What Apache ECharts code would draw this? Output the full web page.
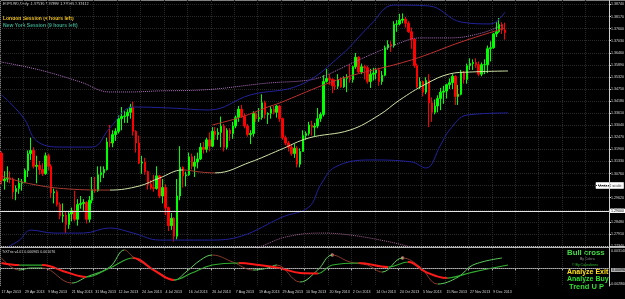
<!DOCTYPE html>
<html>
<head>
<meta charset="utf-8">
<script src="https://cdn.jsdelivr.net/npm/echarts@6/dist/echarts.min.js"></script>
<style>
  html, body { margin: 0; padding: 0; background: #000; }
  #chart { width: 625px; height: 299px; }
</style>
</head>
<body>
<div id="chart"></div>
<script>
// EURUSD Daily, 17 Apr 2013 .. 13 Dec 2013, one row per weekday: [open, high, low, close]
const ohlc = [
  [1.3172,1.3180,1.3025,1.3042],[1.3042,1.3087,1.3000,1.3050],[1.3050,1.3110,1.3035,1.3055],[1.3055,1.3086,1.3030,1.3048],
  [1.3048,1.3057,1.2955,1.2990],[1.2990,1.3020,1.2950,1.3005],[1.3005,1.3055,1.2980,1.3030],[1.3030,1.3050,1.2995,1.3035],
  [1.3035,1.3100,1.3030,1.3090],[1.3090,1.3185,1.3060,1.3170],
  // May
  [1.3170,1.3245,1.3140,1.3185],[1.3185,1.3200,1.3100,1.3110],[1.3110,1.3160,1.3030,1.3115],[1.3115,1.3135,1.3070,1.3095],
  [1.3095,1.3125,1.3065,1.3075],[1.3075,1.3175,1.3070,1.3160],[1.3160,1.3170,1.3090,1.3110],[1.3110,1.3120,1.2960,1.2985],
  [1.2985,1.3005,1.2935,1.2990],[1.2990,1.3000,1.2920,1.2930],[1.2930,1.2940,1.2860,1.2875],[1.2875,1.2935,1.2845,1.2880],
  [1.2880,1.2895,1.2795,1.2835],[1.2835,1.2900,1.2815,1.2885],[1.2885,1.2915,1.2850,1.2900],[1.2900,1.2995,1.2850,1.2860],
  [1.2860,1.2955,1.2830,1.2930],[1.2930,1.2970,1.2910,1.2935],[1.2935,1.2955,1.2900,1.2940],[1.2940,1.2945,1.2840,1.2860],
  [1.2860,1.2970,1.2845,1.2950],[1.2950,1.3060,1.2935,1.3000],[1.3000,1.3060,1.2985,1.2995],
  // June
  [1.2995,1.3110,1.2990,1.3070],[1.3070,1.3110,1.3035,1.3080],[1.3080,1.3110,1.3055,1.3095],[1.3095,1.3245,1.3090,1.3225],
  [1.3225,1.3305,1.3200,1.3220],[1.3220,1.3280,1.3200,1.3260],[1.3260,1.3290,1.3230,1.3275],[1.3275,1.3350,1.3265,1.3335],
  [1.3335,1.3390,1.3280,1.3345],[1.3345,1.3370,1.3315,1.3348],[1.3348,1.3380,1.3315,1.3365],[1.3365,1.3405,1.3335,1.3390],
  [1.3390,1.3415,1.3255,1.3275],[1.3275,1.3280,1.3175,1.3220],[1.3220,1.3255,1.3120,1.3125],[1.3125,1.3160,1.3075,1.3130],
  [1.3130,1.3150,1.3070,1.3085],[1.3085,1.3090,1.3000,1.3025],[1.3025,1.3045,1.3000,1.3010],[1.3010,1.3070,1.2990,1.3005],
  // July
  [1.3005,1.3110,1.3000,1.3065],[1.3065,1.3070,1.2960,1.2970],[1.2970,1.3050,1.2935,1.3010],[1.3010,1.3025,1.2880,1.2915],
  [1.2915,1.2920,1.2805,1.2830],[1.2830,1.2890,1.2810,1.2865],[1.2865,1.2870,1.2755,1.2780],[1.2780,1.3050,1.2765,1.2970],
  [1.2970,1.3205,1.2950,1.3105],[1.3105,1.3110,1.3010,1.3065],[1.3065,1.3085,1.3015,1.3070],[1.3070,1.3175,1.3065,1.3155],
  [1.3155,1.3170,1.3095,1.3110],[1.3110,1.3160,1.3060,1.3130],[1.3130,1.3175,1.3100,1.3145],[1.3145,1.3220,1.3140,1.3200],
  [1.3200,1.3225,1.3170,1.3190],[1.3190,1.3245,1.3175,1.3235],[1.3235,1.3270,1.3180,1.3205],[1.3205,1.3295,1.3200,1.3275],
  [1.3275,1.3295,1.3235,1.3260],[1.3260,1.3290,1.3235,1.3270],[1.3270,1.3345,1.3200,1.3300],
  // August
  [1.3300,1.3310,1.3180,1.3200],[1.3200,1.3290,1.3190,1.3280],[1.3280,1.3290,1.3230,1.3265],[1.3265,1.3320,1.3240,1.3300],
  [1.3300,1.3350,1.3290,1.3340],[1.3340,1.3395,1.3320,1.3380],[1.3380,1.3400,1.3340,1.3345],[1.3345,1.3360,1.3290,1.3300],
  [1.3300,1.3310,1.3250,1.3260],[1.3260,1.3280,1.3215,1.3265],[1.3265,1.3370,1.3250,1.3360],[1.3360,1.3365,1.3320,1.3335],
  [1.3335,1.3385,1.3320,1.3340],[1.3340,1.3450,1.3330,1.3410],[1.3410,1.3420,1.3335,1.3355],[1.3355,1.3365,1.3310,1.3360],
  [1.3360,1.3395,1.3335,1.3380],[1.3380,1.3395,1.3355,1.3365],[1.3365,1.3400,1.3340,1.3395],[1.3395,1.3400,1.3320,1.3335],
  [1.3335,1.3340,1.3235,1.3245],[1.3245,1.3255,1.3210,1.3220],
  // September
  [1.3220,1.3230,1.3180,1.3200],[1.3200,1.3215,1.3160,1.3170],[1.3170,1.3215,1.3150,1.3195],[1.3195,1.3205,1.3105,1.3120],
  [1.3120,1.3195,1.3105,1.3180],[1.3180,1.3280,1.3180,1.3255],[1.3255,1.3275,1.3235,1.3265],[1.3265,1.3320,1.3255,1.3305],
  [1.3305,1.3325,1.3255,1.3295],[1.3295,1.3315,1.3250,1.3300],[1.3300,1.3385,1.3290,1.3335],[1.3335,1.3365,1.3320,1.3355],
  [1.3355,1.3540,1.3345,1.3510],[1.3510,1.3570,1.3505,1.3525],[1.3525,1.3545,1.3495,1.3520],[1.3520,1.3525,1.3455,1.3490],
  [1.3490,1.3520,1.3470,1.3488],[1.3488,1.3545,1.3475,1.3520],[1.3520,1.3530,1.3480,1.3485],[1.3485,1.3535,1.3480,1.3525],
  [1.3525,1.3545,1.3460,1.3530],
  // October
  [1.3530,1.3590,1.3505,1.3520],[1.3520,1.3585,1.3505,1.3580],[1.3580,1.3645,1.3570,1.3625],[1.3625,1.3630,1.3550,1.3555],
  [1.3555,1.3595,1.3545,1.3580],[1.3580,1.3590,1.3520,1.3575],[1.3575,1.3585,1.3500,1.3510],[1.3510,1.3570,1.3480,1.3545],
  [1.3545,1.3575,1.3515,1.3550],[1.3550,1.3575,1.3520,1.3565],[1.3565,1.3575,1.3490,1.3510],[1.3510,1.3560,1.3495,1.3540],
  [1.3540,1.3680,1.3535,1.3670],[1.3670,1.3705,1.3660,1.3685],[1.3685,1.3700,1.3650,1.3680],[1.3680,1.3795,1.3670,1.3780],
  [1.3780,1.3800,1.3745,1.3782],[1.3782,1.3830,1.3775,1.3800],[1.3800,1.3832,1.3785,1.3805],[1.3805,1.3815,1.3765,1.3785],
  [1.3785,1.3795,1.3740,1.3745],[1.3745,1.3765,1.3665,1.3710],[1.3710,1.3712,1.3575,1.3585],
  // November
  [1.3585,1.3595,1.3480,1.3485],[1.3485,1.3530,1.3475,1.3510],[1.3510,1.3515,1.3440,1.3460],[1.3460,1.3530,1.3450,1.3515],
  [1.3515,1.3545,1.3295,1.3410],[1.3410,1.3435,1.3320,1.3365],[1.3365,1.3425,1.3355,1.3395],[1.3395,1.3445,1.3365,1.3430],
  [1.3430,1.3480,1.3375,1.3460],[1.3460,1.3490,1.3405,1.3465],[1.3465,1.3500,1.3430,1.3495],[1.3495,1.3525,1.3475,1.3505],
  [1.3505,1.3545,1.3475,1.3535],[1.3535,1.3540,1.3400,1.3440],[1.3440,1.3495,1.3400,1.3450],[1.3450,1.3565,1.3445,1.3555],
  [1.3555,1.3560,1.3500,1.3520],[1.3520,1.3595,1.3500,1.3585],[1.3585,1.3620,1.3565,1.3595],[1.3595,1.3615,1.3565,1.3600],
  [1.3600,1.3620,1.3575,1.3590],
  // December
  [1.3590,1.3605,1.3535,1.3545],[1.3545,1.3600,1.3535,1.3590],[1.3590,1.3615,1.3545,1.3590],[1.3590,1.3680,1.3550,1.3665],
  [1.3665,1.3700,1.3605,1.3670],[1.3670,1.3740,1.3665,1.3735],[1.3735,1.3790,1.3720,1.3745],[1.3745,1.3810,1.3740,1.3780],
  [1.3780,1.3790,1.3735,1.3753],[1.3753,1.3788,1.3708,1.3741]
];
const firstDay = '2013-04-17';
const emptyBars = 35;   // blank space right of the last bar

// price scale labels and horizontal lines
const priceTicks = [1.27340,1.27910,1.28480,1.29050,1.29620,1.30190,1.30760,1.31330,1.31900,1.32470,1.33040,
  1.33610,1.34180,1.34750,1.35320,1.35890,1.36460,1.37030,1.37600,1.38170,1.38740];
const hLines = [1.2889, 1.2878];
const bidPrice = 1.37412;

// overlay lines: [bar index, price]
const envUpper = [[0,1.3602],[13,1.3565],[27,1.3508],[37,1.3461],[44,1.3461],[54,1.3466],[68,1.3470],[91,1.3503],
  [105,1.3517],[111,1.3541],[122,1.3612],[136,1.3692],[143,1.3716],[153,1.3716],[164,1.3739],[171,1.3777]];
const envLower = [[84,1.2715],[88,1.2729],[97,1.2776],[109,1.2795],[119,1.2786],[132,1.2755],[140,1.2729],[144,1.2715]];
const bbUpper = [[0,1.3447],[3,1.3409],[8,1.3330],[12,1.3230],[20,1.3201],[31,1.3201],[37,1.3291],[45,1.3390],[58,1.3385],
  [71,1.3376],[85,1.3447],[102,1.3494],[116,1.3635],[126,1.3777],[134,1.3871],[146,1.3867],[157,1.3791],[167,1.3782],[172,1.3838]];
const bbLower = [[0,1.2715],[6,1.2760],[10,1.2809],[18,1.2795],[28,1.2795],[37,1.2819],[45,1.2795],[54,1.2762],[71,1.2762],
  [82,1.2781],[96,1.2871],[105,1.2918],[109,1.3022],[114,1.3107],[126,1.3140],[140,1.3131],[145,1.3102],[150,1.3211],
  [153,1.3281],[159,1.3352],[173,1.3362]];
const maLine = [[0,1.3064],[10,1.3027],[23,1.3003],[37,1.2998],[47,1.3017],[54,1.3055],[62,1.3093],[68,1.3083],[73,1.3079],
  [85,1.3130],[95,1.3187],[105,1.3244],[119,1.3281],[129,1.3352],[136,1.3423],[145,1.3499],[153,1.3546],[160,1.3555],[173,1.3560]];
const channelLine = [[72,1.3305],[82,1.3343],[91,1.3390],[95,1.3409],[110,1.3494],[119,1.3536],[140,1.3612],[157,1.3697],[172,1.3763]];

// TRIX sub window: [bar index, value]
const trixFast = [[0,0.00168],[6,-0.00027],[10,0.00006],[14,0.00006],[24,-0.00238],[29,-0.00140],[37,0.00022],[42,0.00298],
  [45,0.00184],[54,-0.00076],[59,-0.00189],[63,-0.00060],[68,0.00135],[72,0.00216],[79,0.00103],[86,-0.00027],[91,0.00006],
  [94,0.00054],[102,-0.00221],[108,-0.00027],[113,0.00216],[119,0.00103],[125,0.00054],[130,-0.00060],[137,0.00168],
  [143,0.00022],[149,-0.00254],[156,-0.00140],[161,0.00054],[171,0.00168]];
const trixSlow = [[0,0.00087],[6,0.00054],[14,0.00054],[22,-0.00060],[29,-0.00140],[37,0.00006],[45,0.00168],[52,-0.00027],
  [59,-0.00189],[65,-0.00076],[72,0.00054],[81,0.00087],[88,0.00054],[95,0.00006],[102,-0.00076],[108,-0.00082],[113,0.00054],
  [122,0.00087],[132,0.00022],[139,0.00103],[145,-0.00060],[152,-0.00157],[161,-0.00060],[173,0.00054]];
const trixMarks = [[113,0.00216],[137,0.00168]];

const MONTHS = ['Jan','Feb','Mar','Apr','May','Jun','Jul','Aug','Sep','Oct','Nov','Dec'];
const FONT = '"Liberation Sans", Arial, sans-serif';
const CLEAR = 'rgba(0,0,0,0)';

// weekdays from the first bar on
function weekdays(start, n) {
  const out = [];
  const d = new Date(start + 'T00:00:00Z');
  while (out.length < n) {
    const w = d.getUTCDay();
    if (w !== 0 && w !== 6) out.push(d.getUTCDate() + ' ' + MONTHS[d.getUTCMonth()] + ' ' + d.getUTCFullYear());
    d.setUTCDate(d.getUTCDate() + 1);
  }
  return out;
}
const dates = weekdays(firstDay, ohlc.length + emptyBars);

// colour each stretch of a line by whether it goes up or down
function slopePieces(pts, upColor, downColor) {
  const pieces = [];
  for (let j = 0; j < pts.length - 1; j++) {
    const p = pts[j], q = pts[j + 1];
    const piece = { gte: p[0], color: q[1] >= p[1] ? upColor : downColor };
    if (j < pts.length - 2) piece.lt = q[0]; else piece.lte = q[0];
    pieces.push(piece);
  }
  return pieces;
}

function overlay(data, lineStyle) {
  return {
    type: 'line', xAxisIndex: 0, yAxisIndex: 0, data: data,
    symbol: 'none', smooth: 0.4, silent: true,
    lineStyle: Object.assign({ width: 1 }, lineStyle)
  };
}

const splitStyle = { color: '#2a2a2a', type: 'dotted', width: 1 };
const chart = echarts.init(document.getElementById('chart'), null, { renderer: 'canvas' });

chart.setOption({
  animation: false,
  backgroundColor: '#000',
  grid: [
    { left: 0, right: 16, top: 0, height: 246, outerBoundsMode: 'none' },
    { left: 0, right: 16, top: 248, height: 38, outerBoundsMode: 'none' }
  ],
  xAxis: [
    {
      type: 'category', gridIndex: 0, data: dates, boundaryGap: true,
      axisLine: { show: false }, axisTick: { show: false }, axisLabel: { show: false },
      splitLine: { show: true, interval: 7, lineStyle: splitStyle }
    },
    {
      type: 'category', gridIndex: 1, data: dates, boundaryGap: true,
      axisLine: { show: true, lineStyle: { color: '#b0b0b0', width: 1 } },
      axisTick: { show: true, interval: 7, length: 2, lineStyle: { color: '#b0b0b0' } },
      axisLabel: {
        interval: 7, fontSize: 3.6, fontFamily: FONT, color: '#d8d8d8', align: 'left', margin: 4,
        formatter: (v, i) => (i < ohlc.length ? v : '')
      },
      splitLine: { show: true, interval: 7, lineStyle: splitStyle }
    }
  ],
  yAxis: [
    {
      type: 'value', gridIndex: 0, position: 'right', min: 1.2734, max: 1.3895, scale: true,
      axisLine: { show: true, lineStyle: { color: '#d0d0d0', width: 1 } },
      axisTick: { show: true, length: 2, customValues: priceTicks, lineStyle: { color: '#d0d0d0' } },
      axisLabel: {
        customValues: priceTicks, fontSize: 3.6, fontFamily: FONT, color: '#d8d8d8', margin: 2,
        formatter: v => v.toFixed(5)
      },
      splitLine: { show: true, lineStyle: splitStyle }
    },
    {
      type: 'value', gridIndex: 1, position: 'right', min: -0.00286, max: 0.0033,
      axisLine: { show: true, lineStyle: { color: '#d0d0d0', width: 1 } },
      axisTick: { show: false }, axisLabel: { show: false }, splitLine: { show: false }
    }
  ],
  visualMap: [
    { type: 'piecewise', show: false, seriesIndex: 5, dimension: 0,
      pieces: slopePieces(maLine, '#cfe3a6', '#a83a30'), outOfRange: { color: CLEAR } },
    { type: 'piecewise', show: false, seriesIndex: 7, dimension: 0,
      pieces: slopePieces(trixFast, '#5ccf5c', '#8a3a2a'), outOfRange: { color: CLEAR } },
    { type: 'piecewise', show: false, seriesIndex: 8, dimension: 0,
      pieces: slopePieces(trixSlow, CLEAR, '#ff1a1a'), outOfRange: { color: CLEAR } },
    { type: 'piecewise', show: false, seriesIndex: 9, dimension: 0,
      pieces: slopePieces(trixSlow, '#2fae2f', CLEAR), outOfRange: { color: CLEAR } }
  ],
  series: [
    {
      type: 'candlestick', xAxisIndex: 0, yAxisIndex: 0, barWidth: 2, silent: true,
      data: ohlc.map(d => [d[0], d[3], d[2], d[1]]),
      itemStyle: { color: '#00ff00', color0: '#ff0000', borderColor: '#00ff00', borderColor0: '#ff0000', borderWidth: 1 },
      markLine: {
        silent: true, symbol: 'none', animation: false,
        label: {
          position: 'end', distance: 1, fontSize: 3.6, fontFamily: FONT, color: '#000',
          backgroundColor: '#fff', padding: [0, 1], formatter: p => p.value.toFixed(5)
        },
        lineStyle: { color: '#e6e6e6', width: 1, type: 'solid' },
        data: hLines.map(v => ({ yAxis: v }))
          .concat([{ yAxis: bidPrice, lineStyle: { opacity: 0 } }])
      }
    },
    overlay(envUpper, { color: '#b070c0', type: 'dotted' }),
    overlay(envLower, { color: '#a06090', type: 'dotted' }),
    overlay(bbUpper, { color: '#22229a' }),
    overlay(bbLower, { color: '#22229a' }),
    overlay(maLine, {}),          // coloured by the first visualMap
    overlay(channelLine, { color: '#c03030' }),
    {
      type: 'line', xAxisIndex: 1, yAxisIndex: 1, data: trixFast, symbol: 'none', smooth: 0.4, silent: true,
      lineStyle: { width: 1 },
      markLine: {
        silent: true, symbol: 'none', label: { show: false },
        lineStyle: { color: '#777', type: 'dotted', width: 1 }, data: [{ yAxis: 0 }]
      }
    },
    { type: 'line', xAxisIndex: 1, yAxisIndex: 1, data: trixSlow, symbol: 'none', smooth: 0.4, silent: true,
      lineStyle: { width: 2 } },
    { type: 'line', xAxisIndex: 1, yAxisIndex: 1, data: trixSlow, symbol: 'none', smooth: 0.4, silent: true,
      lineStyle: { width: 1.2 } },
    { type: 'scatter', xAxisIndex: 1, yAxisIndex: 1, data: trixMarks, symbol: 'circle', symbolSize: 3.5, silent: true,
      itemStyle: { color: '#ff9a9a' } }
  ],
  graphic: [
    // window frame and sub-window separator
    { type: 'line', shape: { x1: 0, y1: 0.5, x2: 625, y2: 0.5 }, style: { stroke: '#808080', lineWidth: 1 } },
    { type: 'line', shape: { x1: 0.5, y1: 0, x2: 0.5, y2: 286 }, style: { stroke: '#808080', lineWidth: 1 } },
    { type: 'line', shape: { x1: 0, y1: 247, x2: 625, y2: 247 }, style: { stroke: '#f0f0f0', lineWidth: 1.5 } },
    // chart captions
    { type: 'text', x: 3, y: 3.5, style: { text: 'EURUSD,Daily  1.37530 1.37880 1.37080 1.37412', fill: '#d8d8d8',
      font: '3.8px ' + FONT, verticalAlign: 'middle' } },
    { type: 'text', x: 3, y: 18.5, style: { text: 'London Session (4 hours left)', fill: '#f2c320',
      font: 'bold 5px ' + FONT, verticalAlign: 'middle' } },
    { type: 'text', x: 3, y: 25.5, style: { text: 'New York Session (9 hours left)', fill: '#3aa58a',
      font: 'bold 5px ' + FONT, verticalAlign: 'middle' } },
    { type: 'text', x: 2, y: 251.5, style: { text: 'TrXTrix v4.01 0.000965 0.001076', fill: '#d8d8d8',
      font: '3.6px ' + FONT, verticalAlign: 'middle' } },
    // price scale extras
    { type: 'text', x: 596, y: 185.5, style: { text: 'Vertical scale', fill: '#000', backgroundColor: '#fff',
      borderColor: '#999', borderWidth: 0.5, padding: [1, 2], font: '4px ' + FONT, verticalAlign: 'middle' } },
    { type: 'text', x: 611, y: 250.5, style: { text: '0.003140', fill: '#d8d8d8', font: '3.6px ' + FONT, verticalAlign: 'middle' } },
    { type: 'text', x: 611, y: 270, style: { text: '0.000965', fill: '#000', backgroundColor: '#b0b0b0', padding: [0, 1],
      font: '3.6px ' + FONT, verticalAlign: 'middle' } },
    { type: 'text', x: 610, y: 284, style: { text: '-0.002860', fill: '#d8d8d8', font: '3.6px ' + FONT, verticalAlign: 'middle' } },
    // signal panel
    { type: 'text', x: 567, y: 253, style: { text: 'Bull cross', fill: '#44dd44', font: 'bold 7.8px ' + FONT, verticalAlign: 'middle' } },
    { type: 'text', x: 580, y: 259.5, style: { text: 'By Cobra', fill: '#8a8a8a', font: '3.5px ' + FONT, verticalAlign: 'middle' } },
    { type: 'text', x: 572, y: 265.5, style: { text: '\u00a9 By Cobraforex', fill: '#30c030', font: '3.5px ' + FONT, verticalAlign: 'middle' } },
    { type: 'text', x: 567, y: 272.5, style: { text: 'Analyze Exit', fill: '#ffe020', font: 'bold 7px ' + FONT, verticalAlign: 'middle' } },
    { type: 'text', x: 567, y: 279.5, style: { text: 'Analyze Buy', fill: '#33dd33', font: 'bold 7px ' + FONT, verticalAlign: 'middle' } },
    { type: 'text', x: 569, y: 287, style: { text: 'Trend U P', fill: '#33dd33', font: 'bold 7.5px ' + FONT, verticalAlign: 'middle' } }
  ]
});
</script>
</body>
</html>
